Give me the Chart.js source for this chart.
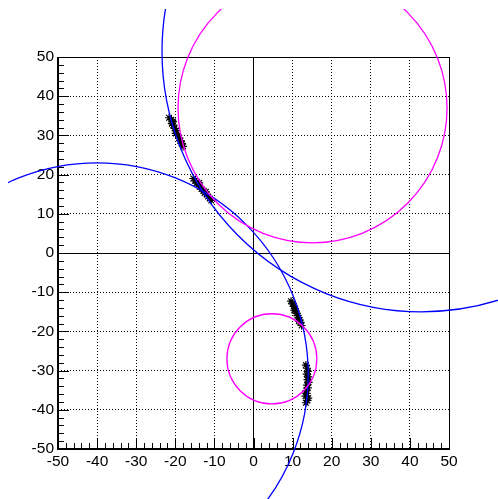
<!DOCTYPE html>
<html>
<head>
<meta charset="utf-8">
<script src="https://cdn.jsdelivr.net/npm/chart.js@4.4.1/dist/chart.umd.min.js"></script>
<style>
  html, body { margin: 0; padding: 0; background: #fff; }
  canvas { display: block; }
</style>
</head>
<body>
<canvas id="c" width="498" height="499"></canvas>
<script>
// Axis range and tick labels
const axisMin = -50;
const axisMax = 50;
const majorStep = 10;
const minorStep = 2;
const tickLabels = [-50, -40, -30, -20, -10, 0, 10, 20, 30, 40, 50];

// Hits (black stars)
const hitX = [
  -21.6, -21.0, -20.9, -20.5, -20.2, -19.8, -19.9, -19.3, -19.0, -18.7, -18.4, -18.0, -18.3, -20.6,
  -15.4, -14.9, -14.6, -14.0, -13.7, -13.3, -12.8, -12.5, -12.0, -11.6, -11.2, -10.8, -13.9, -12.2,
  9.6, 10.0, 10.3, 10.6, 10.8, 11.0, 11.3, 11.5, 11.8, 12.0, 12.3, 10.4, 11.6,
  13.4, 13.7, 13.9, 13.6, 14.0, 13.8, 14.1, 13.7, 13.9, 13.5, 13.6, 13.3, 14.0, 13.8, 13.4
];
const hitY = [
  34.5, 34.0, 33.0, 32.6, 31.8, 31.2, 30.5, 30.0, 29.4, 28.6, 28.0, 27.2, 27.9, 33.6,
  19.0, 18.4, 17.8, 17.4, 16.9, 16.3, 15.8, 15.3, 14.9, 14.4, 13.9, 13.4, 17.9, 15.6,
  -12.3, -13.0, -13.6, -14.2, -14.8, -15.4, -16.0, -16.5, -17.1, -17.7, -18.5, -14.6, -17.4,
  -28.6, -29.4, -30.2, -30.9, -31.6, -32.3, -33.0, -33.7, -34.4, -35.1, -35.8, -36.5, -37.0, -37.6, -38.2
];

// Fitted circles (blue)
const fitCx = [43.0, -40.0];
const fitCy = [51.4, -31.0];
const fitR = [66.4, 54.0];

// Reference circles (magenta)
const refCx = [15.1, 4.7];
const refCy = [37.0, -27.0];
const refR = [34.4, 11.5];

const labelFont = { family: "'Liberation Sans', Arial, Helvetica, sans-serif", size: 15.5 };

const hits = hitX.map((x, i) => ({ x: x, y: hitY[i] }));

// ticks inside the frame and the frame itself
const frameTicks = {
  id: 'frameTicks',
  beforeDatasetsDraw(chart) {
    const { ctx, chartArea: a, scales: { x, y } } = chart;
    ctx.save();
    ctx.strokeStyle = '#000';
    ctx.lineWidth = 1;
    ctx.beginPath();
    const n = (axisMax - axisMin) / minorStep;
    for (let i = 0; i <= n; i++) {
      const v = axisMin + i * minorStep;
      const len = (v - axisMin) % majorStep === 0 ? 11 : 6;
      const px = Math.round(x.getPixelForValue(v)) + 0.5;
      ctx.moveTo(px, a.bottom); ctx.lineTo(px, a.bottom - len);
      const py = Math.round(y.getPixelForValue(v)) + 0.5;
      ctx.moveTo(a.left, py); ctx.lineTo(a.left + len, py);
    }
    ctx.stroke();
    ctx.strokeRect(a.left + 0.5, a.top + 0.5, a.right - a.left, a.bottom - a.top);
    ctx.lineWidth = 2;
    ctx.beginPath();
    ctx.moveTo(a.left, a.top); ctx.lineTo(a.left, a.bottom + 1);
    ctx.moveTo(a.left - 1, a.bottom); ctx.lineTo(a.right + 1, a.bottom);
    ctx.stroke();
    ctx.restore();
  }
};

// circles drawn through the scales, clipped to the pad
const circles = {
  id: 'circles',
  afterDatasetsDraw(chart) {
    const { ctx, scales: { x, y } } = chart;
    ctx.save();
    ctx.beginPath();
    ctx.rect(8, 9, chart.width - 8, chart.height - 9);
    ctx.clip();
    ctx.lineWidth = 1.3;
    const draw = (cx, cy, r, color) => {
      for (let i = 0; i < cx.length; i++) {
        const px = x.getPixelForValue(cx[i]);
        const py = y.getPixelForValue(cy[i]);
        const rx = Math.abs(x.getPixelForValue(cx[i] + r[i]) - px);
        const ry = Math.abs(y.getPixelForValue(cy[i] + r[i]) - py);
        ctx.strokeStyle = color;
        ctx.beginPath();
        ctx.ellipse(px, py, rx, ry, 0, 0, Math.PI * 2);
        ctx.stroke();
      }
    };
    draw(fitCx, fitCy, fitR, '#0000ff');
    draw(refCx, refCy, refR, '#ff00ff');
    ctx.restore();
  }
};

// zero lines solid, other grid lines dotted
const gridDash = (c) => (c.tick && c.tick.value === 0 ? [] : [1, 2]);

new Chart(document.getElementById('c'), {
  type: 'scatter',
  data: {
    datasets: [{
      data: hits,
      pointStyle: 'star',
      pointRadius: 4,
      pointBorderColor: '#000',
      pointBackgroundColor: '#000',
      pointBorderWidth: 1.2,
      showLine: false
    }]
  },
  options: {
    responsive: false,
    animation: false,
    devicePixelRatio: 1,
    events: [],
    layout: { padding: { top: 57, right: 49, left: 0, bottom: 0 } },
    plugins: { legend: { display: false }, tooltip: { enabled: false } },
    scales: {
      x: {
        type: 'linear', min: axisMin, max: axisMax,
        afterBuildTicks: (s) => { s.ticks = tickLabels.map(v => ({ value: v })); },
        afterFit: (s) => { s.height = 50; },
        ticks: { color: '#000', font: labelFont, padding: 3, maxRotation: 0, autoSkip: false },
        grid: { color: '#000', lineWidth: 1, drawTicks: false },
        border: { display: false, dash: gridDash }
      },
      y: {
        type: 'linear', min: axisMin, max: axisMax,
        afterBuildTicks: (s) => { s.ticks = tickLabels.map(v => ({ value: v })); },
        afterFit: (s) => { s.width = 58; },
        ticks: { color: '#000', font: labelFont, padding: 4, autoSkip: false },
        grid: { color: '#000', lineWidth: 1, drawTicks: false },
        border: { display: false, dash: gridDash }
      }
    }
  },
  plugins: [frameTicks, circles]
});
</script>
</body>
</html>
